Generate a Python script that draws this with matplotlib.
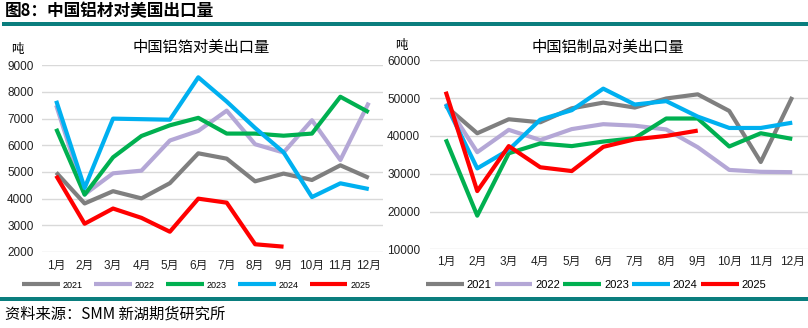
import matplotlib
matplotlib.use("Agg")
import matplotlib.pyplot as plt
from matplotlib.patches import Rectangle

plt.rcParams['font.family'] = ['Liberation Sans', 'Noto Sans CJK SC']

# ---- data ----
months = ['1月', '2月', '3月', '4月', '5月', '6月', '7月', '8月', '9月', '10月', '11月', '12月']
years = ['2021', '2022', '2023', '2024', '2025']

foil_2021 = [4980, 3820, 4280, 4010, 4580, 5700, 5500, 4650, 4940, 4700, 5250, 4780]
foil_2022 = [7500, 4160, 4950, 5050, 6180, 6540, 7300, 6040, 5730, 6940, 5450, 7600]
foil_2023 = [6620, 4150, 5550, 6350, 6750, 7030, 6440, 6440, 6360, 6440, 7820, 7240]
foil_2024 = [7670, 4400, 7000, 6980, 6960, 8550, 7640, 6650, 5740, 4060, 4575, 4360]
foil_2025 = [4860, 3060, 3630, 3280, 2760, 4000, 3850, 2290, 2200]

prod_2021 = [47900, 40700, 44400, 43600, 47300, 48800, 47500, 49900, 51000, 46600, 33100, 50300]
prod_2022 = [48600, 35700, 41600, 38900, 41800, 43100, 42700, 41700, 37000, 31000, 30500, 30400]
prod_2023 = [39100, 18900, 35400, 38000, 37300, 38500, 39400, 44600, 44600, 37200, 40700, 39200]
prod_2024 = [48400, 31400, 36300, 44300, 46800, 52500, 48300, 49200, 45100, 42100, 42100, 43500]
prod_2025 = [51700, 25400, 37300, 31700, 30700, 37100, 39100, 40000, 41400]

colors = ['#7F7F7F', '#B4A7D6', '#00B050', '#00B0F0', '#FF0000']
teal = '#0A7E7E'

W, H = 808, 328
fig = plt.figure(figsize=(W / 100, H / 100), dpi=100)

# header / footer decorations
fig.text(5 / W, 1 - 11 / H, '图8：中国铝材对美国出口量', fontsize=12, fontweight='bold',
         family=['Noto Sans CJK SC'], va='center', ha='left')
fig.add_artist(Rectangle((2 / W, 1 - 26 / H), 1, 4 / H, transform=fig.transFigure,
                         color=teal, lw=0))
fig.add_artist(Rectangle((0, 1 - 301 / H), 1, 4 / H, transform=fig.transFigure,
                         color=teal, lw=0))
fig.text(5 / W, 1 - 314 / H, '资料来源：SMM 新湖期货研究所', fontsize=11,
         family=['Noto Sans CJK SC'], va='center', ha='left')


def draw(ax, series, ylim, yticks, ypad, xpad):
    x = list(range(len(months)))
    for s, c, lab in zip(series, colors, years):
        ax.plot(x[:len(s)], s, color=c, lw=3, label=lab, solid_capstyle='butt')
    ax.set_xlim(-0.5, len(months) - 0.5)
    ax.set_ylim(*ylim)
    ax.set_yticks(yticks)
    ax.set_xticks(x)
    ax.set_xticklabels(months)
    ax.grid(axis='y', color='#D9D9D9', lw=1)
    ax.set_axisbelow(True)
    for sp in ax.spines.values():
        sp.set_visible(False)
    ax.tick_params(axis='both', length=0, labelsize=8.5, colors='#222222')
    ax.tick_params(axis='y', pad=ypad)
    ax.tick_params(axis='x', pad=xpad)


axL = fig.add_axes([42 / W, 1 - 252 / H, 341 / W, (252 - 65.3) / H])
draw(axL, [foil_2021, foil_2022, foil_2023, foil_2024, foil_2025],
     (2000, 9000), range(2000, 9001, 1000), 6, 6)
fig.text(201 / W, 1 - 47 / H, '中国铝箔对美出口量', fontsize=11,
         family=['Noto Sans CJK SC'], ha='center', va='center')
fig.text(17 / W, 1 - 50 / H, '吨', fontsize=9, family=['Noto Sans CJK SC'],
         ha='center', va='center')
axL.legend(loc='center', bbox_to_anchor=(196 / W, 1 - 285 / H), bbox_transform=fig.transFigure,
           ncol=5, frameon=False, fontsize=6.5, handlelength=4.2, handletextpad=0.3,
           columnspacing=1.25, borderpad=0)

axR = fig.add_axes([430 / W, 1 - 249.3 / H, 378 / W, (249.3 - 60.3) / H])
draw(axR, [prod_2021, prod_2022, prod_2023, prod_2024, prod_2025],
     (10000, 60000), range(10000, 60001, 10000), 7, 5)
fig.text(608 / W, 1 - 47 / H, '中国铝制品对美出口量', fontsize=11,
         family=['Noto Sans CJK SC'], ha='center', va='center')
fig.text(401 / W, 1 - 45 / H, '吨', fontsize=9, family=['Noto Sans CJK SC'],
         ha='center', va='center')
axR.legend(loc='center', bbox_to_anchor=(596 / W, 1 - 285 / H), bbox_transform=fig.transFigure,
           ncol=5, frameon=False, fontsize=8, handlelength=3.4, handletextpad=0.25,
           columnspacing=0.3, borderpad=0)

fig.savefig('out.png', dpi=100)
